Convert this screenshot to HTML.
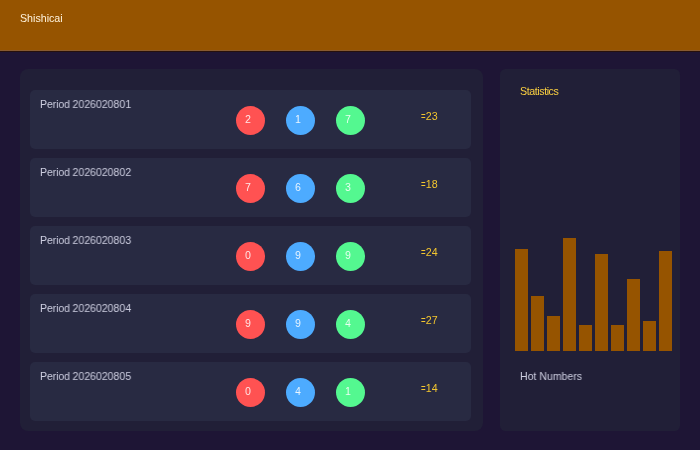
<!DOCTYPE html>
<html lang="en"><head><meta charset="utf-8"><title>Shishicai</title>
<style>
html,body{margin:0;padding:0;}
body{width:700px;height:450px;overflow:hidden;background:#1e1535;position:relative;
 font-family:"Liberation Sans",sans-serif;font-size:10.67px;color:#cfd0e2;}
.abs{position:absolute;}
h1,h2,.p,.sum,#hot,.ball span{will-change:transform;}
header{position:absolute;left:0;top:0;width:700px;height:50px;background:#965400;}
#hl1{position:absolute;left:0;top:50px;width:700px;height:1px;background:#875a30;}
#hl2{position:absolute;left:0;top:51px;width:700px;height:1px;background:#27100c;}
header h1{position:absolute;left:19.6px;top:11.5px;margin:0;font-size:10.67px;font-weight:400;line-height:12px;color:#fff3dc;white-space:nowrap;transform-origin:0 50%;}
.panel{position:absolute;background:#211f37;border-radius:8px;}
#left{left:20px;top:69.33px;width:462.67px;height:361.33px;}
#right{left:500px;top:69.33px;width:180px;height:361.33px;border-radius:5.5px;}
.row{position:absolute;left:10px;width:441px;height:59.33px;background:#282a42;border-radius:5px;}
.row .p{position:absolute;left:10.3px;top:8.33px;line-height:12px;white-space:nowrap;transform-origin:0 50%;transform:scaleX(.99);color:#cdcee0;}
.row .p i{font-style:normal;letter-spacing:-0.14px;}
.ball{position:absolute;width:29.3px;height:29.3px;border-radius:50%;top:16.03px;color:#fff;}
.ball span{position:absolute;left:0;top:0;width:24px;text-align:center;line-height:27px;opacity:.9;transform:scaleX(.94);}
.b1{left:205.8px;background:#ff5252;}
.b2{left:255.8px;background:#4dabff;}
.b3{left:305.8px;background:#54f890;}
.sum{position:absolute;left:390.5px;top:20.33px;line-height:12px;color:#f3c62f;white-space:nowrap;transform-origin:0 50%;transform:scaleX(.99);}
.sum i{font-style:normal;display:inline-block;transform:scaleX(.74);transform-origin:0 50%;margin-right:-1.5px;}
#right h2{position:absolute;left:20.2px;top:15.87px;margin:0;font-size:10.67px;font-weight:400;line-height:12px;color:#fbd040;white-space:nowrap;letter-spacing:-0.42px;}
.bar{position:absolute;width:13px;background:#965400;}
#hot{position:absolute;left:20px;top:300.77px;line-height:12px;white-space:nowrap;transform-origin:0 50%;transform:scaleX(.988);color:#cdcee0;}
</style></head><body>
<header><h1>Shishicai</h1></header><div id="hl1"></div><div id="hl2"></div>
<div class="panel" id="left">
<div class="row" style="top:20.34px"><div class="p"><i>Period </i>2026020801</div><div class="ball b1"><span>2</span></div><div class="ball b2"><span>1</span></div><div class="ball b3"><span>7</span></div><div class="sum"><i>=</i>23</div></div>
<div class="row" style="top:88.34px"><div class="p"><i>Period </i>2026020802</div><div class="ball b1"><span>7</span></div><div class="ball b2"><span>6</span></div><div class="ball b3"><span>3</span></div><div class="sum"><i>=</i>18</div></div>
<div class="row" style="top:156.34px"><div class="p"><i>Period </i>2026020803</div><div class="ball b1"><span>0</span></div><div class="ball b2"><span>9</span></div><div class="ball b3"><span>9</span></div><div class="sum"><i>=</i>24</div></div>
<div class="row" style="top:224.34px"><div class="p"><i>Period </i>2026020804</div><div class="ball b1"><span>9</span></div><div class="ball b2"><span>9</span></div><div class="ball b3"><span>4</span></div><div class="sum"><i>=</i>27</div></div>
<div class="row" style="top:292.34px"><div class="p"><i>Period </i>2026020805</div><div class="ball b1"><span>0</span></div><div class="ball b2"><span>4</span></div><div class="ball b3"><span>1</span></div><div class="sum"><i>=</i>14</div></div>
</div>
<div class="panel" id="right"><h2>Statistics</h2>
<div class="bar" style="left:15px;top:179.37px;height:102.3px"></div>
<div class="bar" style="left:31px;top:226.47px;height:55.2px"></div>
<div class="bar" style="left:47px;top:246.27px;height:35.4px"></div>
<div class="bar" style="left:63px;top:168.57px;height:113.1px"></div>
<div class="bar" style="left:79px;top:255.57px;height:26.1px"></div>
<div class="bar" style="left:95px;top:184.47px;height:97.2px"></div>
<div class="bar" style="left:111px;top:255.57px;height:26.1px"></div>
<div class="bar" style="left:127px;top:209.67px;height:72.0px"></div>
<div class="bar" style="left:143px;top:251.37px;height:30.3px"></div>
<div class="bar" style="left:159px;top:181.47px;height:100.2px"></div>
<div id="hot">Hot Numbers</div></div>
</body></html>
